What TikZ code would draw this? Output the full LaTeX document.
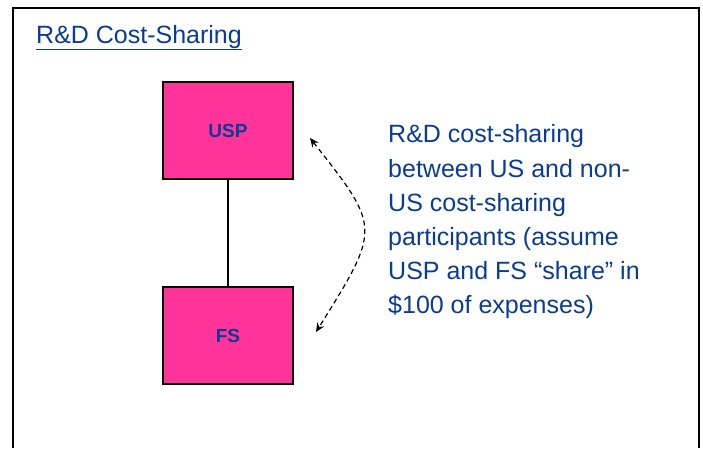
\documentclass[tikz,border=0pt]{standalone}
\usepackage{fontspec}
\setmainfont{Liberation Sans}
\usetikzlibrary{arrows.meta}
\definecolor{navy}{HTML}{0A3C96}
\definecolor{hotpink}{HTML}{FF3399}
\tikzset{
  entity/.style={draw=black, line width=2pt, fill=hotpink, minimum width=130pt, minimum height=97pt,
    inner sep=0pt, text=navy, font=\fontsize{19}{22}\selectfont\bfseries},
  link/.style={line width=1.3pt},
  share/.style={line width=1.2pt, dash pattern=on 5pt off 3.5pt, {Stealth[length=9pt,width=8pt]}-{Stealth[length=9pt,width=8pt]}},
  note/.style={text=navy, align=left, anchor=north west, inner sep=0pt, font=\fontsize{25}{34.2}\selectfont}
}
\begin{document}
\begin{tikzpicture}[x=1pt,y=-1pt]
  \useasboundingbox (0,0) rectangle (703,448);
  \fill[white] (0,0) rectangle (703,448);
  % slide frame (open at the bottom)
  \draw[line width=2.2pt] (13,448) -- (13,8) -- (699,8) -- (699,448);
  % title
  \node[anchor=base west, inner sep=0pt, text=navy, font=\fontsize{25}{30}\selectfont] (title) at (36,43)
    {\underline{R\&D Cost-Sharing}};
  % entities
  \node[entity] (usp) at (228,130.5) {USP};
  \node[entity] (fs) at (228,335.5) {FS};
  \draw[link] (usp) -- (fs);
  % cost-sharing arrow
  \coordinate (a1) at (310,138);
  \coordinate (a2) at (316,332);
  \draw[share] (a1) .. controls (381,228) and (381,228) .. (a2);
  % explanation
  \node[note] (txt) at (388,124.5) {R\&D cost-sharing\\between US and non-\\US cost-sharing\\participants (assume\\USP and FS “share” in\\\$100 of expenses)};
\end{tikzpicture}
\end{document}
